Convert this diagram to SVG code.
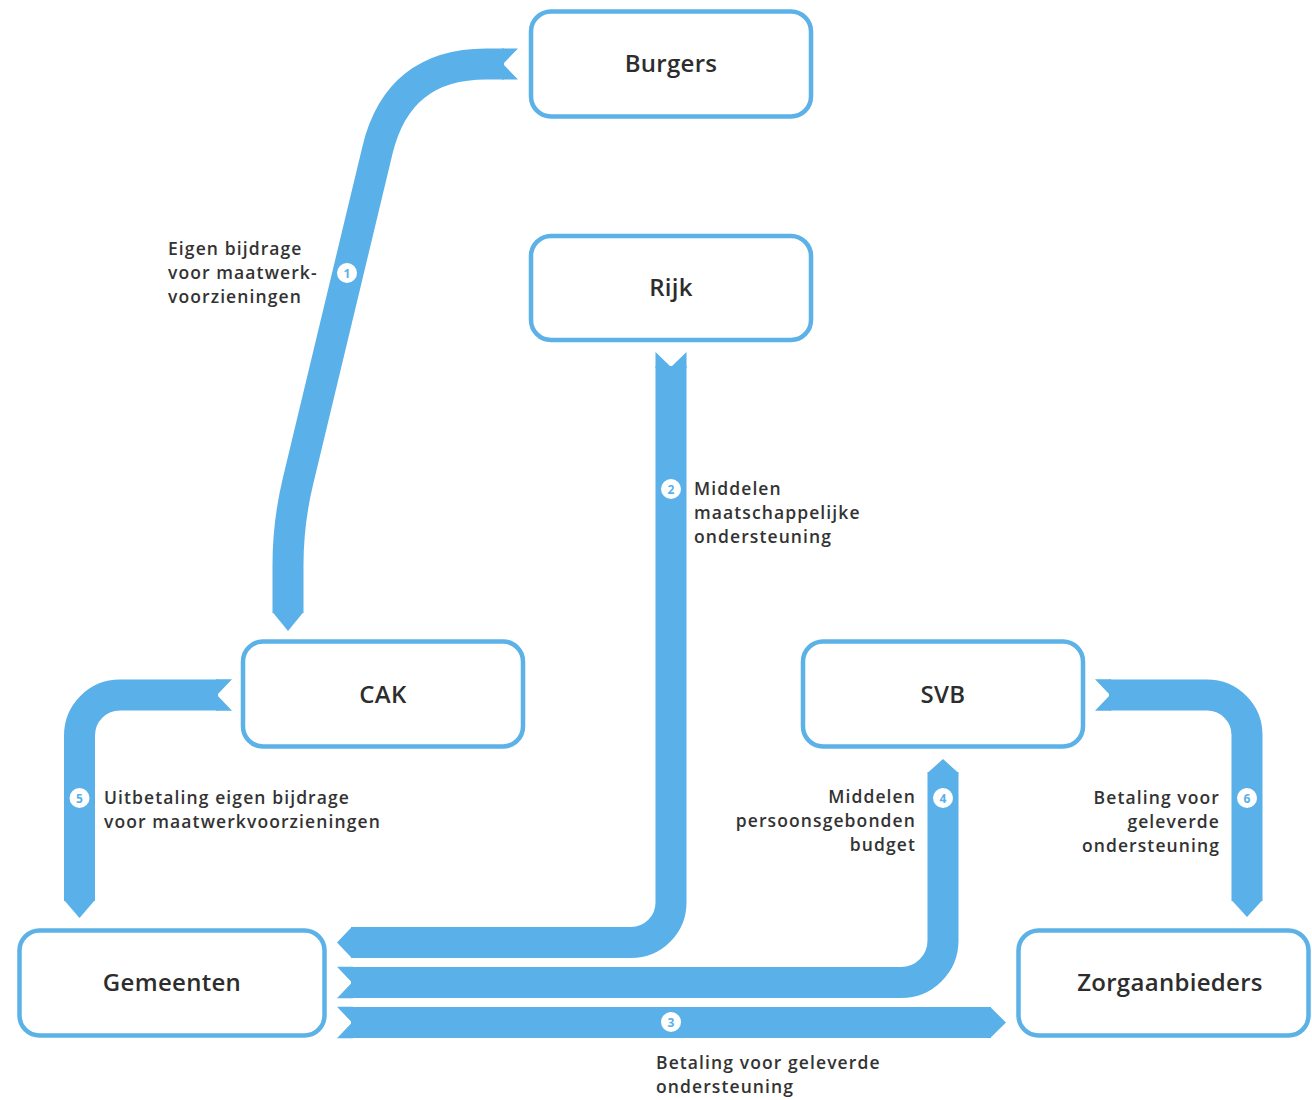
<svg xmlns="http://www.w3.org/2000/svg" width="1312" height="1100" viewBox="0 0 1312 1100">
<style>
.box{fill:#fff;stroke:#5cb1e7;stroke-width:4.5}
.band{fill:none;stroke:#5ab0e8;stroke-width:31;stroke-linecap:butt;stroke-linejoin:round}
.tip{fill:#5ab0e8}
.title{font-family:"Open Sans","Liberation Sans",sans-serif;font-size:24px;font-weight:600;fill:#2d2d2d;text-anchor:middle;letter-spacing:0.3px}
.lbl{font-family:"Open Sans","Liberation Sans",sans-serif;font-size:17.5px;font-weight:600;fill:#333;letter-spacing:1.1px}
.end{text-anchor:end}
.badge{fill:#fff}
.num{font-family:"Open Sans","Liberation Sans",sans-serif;font-size:12px;font-weight:700;fill:#5ab0e8;text-anchor:middle}
</style>
<rect width="1312" height="1100" fill="#fff"/>
<g id="connectors">
  <g id="flow1">
    <path class="band" d="M288,613 L288,565 Q288,523 297.8,482 L377.5,150 Q398.2,64 486,64 L504,64"/>
    <polygon class="tip" points="272.5,612 303.5,612 288,631"/>
    <polygon class="tip" points="502,48.5 518,48.5 503,64 518,79.5 502,79.5"/>
    <circle class="badge" cx="347" cy="273" r="10"/>
    <text class="num" x="347" y="277.5">1</text>
  </g>
  <g id="flow2">
    <path class="band" d="M671,366 L671,902.5 A40,40 0 0 1 631,942.5 L351,942.5"/>
    <polygon class="tip" points="655.5,352 671,367 686.5,352 686.5,368 655.5,368"/>
    <polygon class="tip" points="352,926.75 352,958.25 337,942.5"/>
    <circle class="badge" cx="671" cy="489" r="10"/>
    <text class="num" x="671" y="493.5">2</text>
  </g>
  <g id="flow4">
    <path class="band" d="M351,982.5 L901,982.5 A42,42 0 0 0 943,940.5 L943,772"/>
    <polygon class="tip" points="337,966.75 352,982.5 337,998.25 353,998.25 353,966.75"/>
    <polygon class="tip" points="927.5,773 958.5,773 943,759"/>
    <circle class="badge" cx="943" cy="798" r="10"/>
    <text class="num" x="943" y="802.5">4</text>
  </g>
  <g id="flow3">
    <path class="band" d="M351,1022.5 L991,1022.5"/>
    <polygon class="tip" points="337,1006.75 352,1022.5 337,1038.25 353,1038.25 353,1006.75"/>
    <polygon class="tip" points="990,1006.75 1006,1022.5 990,1038.25"/>
    <circle class="badge" cx="671" cy="1022" r="10"/>
    <text class="num" x="671" y="1026.5">3</text>
  </g>
  <g id="flow5">
    <path class="band" d="M218,695 L120,695 A40.5,40.5 0 0 0 79.5,735.5 L79.5,901"/>
    <polygon class="tip" points="232,679.25 217,695 232,710.75 216,710.75 216,679.25"/>
    <polygon class="tip" points="64,900 95,900 79.5,918"/>
    <circle class="badge" cx="79.5" cy="798" r="10"/>
    <text class="num" x="79.5" y="802.5">5</text>
  </g>
  <g id="flow6">
    <path class="band" d="M1109,695 L1207,695 A40,40 0 0 1 1247,735 L1247,901"/>
    <polygon class="tip" points="1095,679.25 1110,695 1095,710.75 1111,710.75 1111,679.25"/>
    <polygon class="tip" points="1231.5,900 1262.5,900 1247,917"/>
    <circle class="badge" cx="1247" cy="798" r="10"/>
    <text class="num" x="1247" y="802.5">6</text>
  </g>
</g>
<g id="labels">
  <text class="lbl" x="168" y="255">Eigen bijdrage</text>
  <text class="lbl" x="168" y="279">voor maatwerk-</text>
  <text class="lbl" x="168" y="303">voorzieningen</text>
  <text class="lbl" x="694" y="495">Middelen</text>
  <text class="lbl" x="694" y="519">maatschappelijke</text>
  <text class="lbl" x="694" y="543">ondersteuning</text>
  <text class="lbl" x="104" y="804">Uitbetaling eigen bijdrage</text>
  <text class="lbl" x="104" y="828">voor maatwerkvoorzieningen</text>
  <text class="lbl end" x="916" y="803">Middelen</text>
  <text class="lbl end" x="916" y="827">persoonsgebonden</text>
  <text class="lbl end" x="916" y="851">budget</text>
  <text class="lbl end" x="1220" y="804">Betaling voor</text>
  <text class="lbl end" x="1220" y="828">geleverde</text>
  <text class="lbl end" x="1220" y="852">ondersteuning</text>
  <text class="lbl" x="656" y="1069">Betaling voor geleverde</text>
  <text class="lbl" x="656" y="1093">ondersteuning</text>
</g>
<g id="node-burgers">
  <rect class="box" x="531" y="11.5" width="280" height="105" rx="20"/>
  <text class="title" x="671" y="71.5">Burgers</text>
</g>
<g id="node-rijk">
  <rect class="box" x="531" y="236" width="280" height="104" rx="20"/>
  <text class="title" x="671" y="295.5">Rijk</text>
</g>
<g id="node-cak">
  <rect class="box" x="243" y="641.5" width="280" height="105" rx="20"/>
  <text class="title" x="383" y="702.5">CAK</text>
</g>
<g id="node-svb">
  <rect class="box" x="803" y="641.5" width="280" height="105" rx="20"/>
  <text class="title" x="943" y="702.5">SVB</text>
</g>
<g id="node-gemeenten">
  <rect class="box" x="19.5" y="930.5" width="305" height="105" rx="20"/>
  <text class="title" x="172" y="990.5">Gemeenten</text>
</g>
<g id="node-zorgaanbieders">
  <rect class="box" x="1018.5" y="930.5" width="290" height="105" rx="20"/>
  <text class="title" x="1170" y="990.5">Zorgaanbieders</text>
</g>
</svg>
